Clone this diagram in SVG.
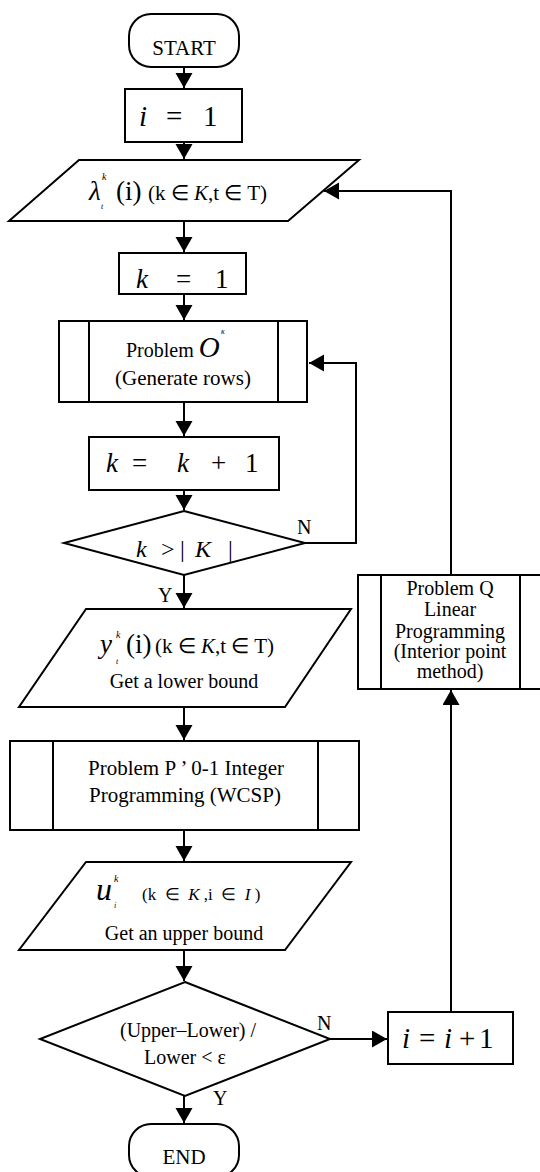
<svg xmlns="http://www.w3.org/2000/svg" width="540" height="1172" viewBox="0 0 540 1172" font-family="'Liberation Serif', 'Times New Roman', serif">
<defs>
<marker id="ah" markerUnits="userSpaceOnUse" markerWidth="16" markerHeight="18" refX="15" refY="8.5" orient="auto">
<path d="M0,0 L15,8.5 L0,17 z" fill="#000"/>
</marker>
<style>
.s{fill:#fff;stroke:#000;stroke-width:2}
.ln{fill:none;stroke:#000;stroke-width:2}
text{font-family:'Liberation Serif','Times New Roman',serif;fill:#000}
.c{text-anchor:middle}
.i{font-style:italic}
</style>
</defs>
<rect width="540" height="1172" fill="#fff"/>
<g id="connectors">
<path class="ln" d="M184,67 V88" marker-end="url(#ah)"/>
<path class="ln" d="M184,142 V159" marker-end="url(#ah)"/>
<path class="ln" d="M184,221 V252" marker-end="url(#ah)"/>
<path class="ln" d="M184,294 V320" marker-end="url(#ah)"/>
<path class="ln" d="M184,402 V436" marker-end="url(#ah)"/>
<path class="ln" d="M184,490 V510" marker-end="url(#ah)"/>
<path class="ln" d="M305,543 H356 V363 H309" marker-end="url(#ah)"/>
<path class="ln" d="M184,575 V608" marker-end="url(#ah)"/>
<path class="ln" d="M184,707 V740" marker-end="url(#ah)"/>
<path class="ln" d="M184,830 V861" marker-end="url(#ah)"/>
<path class="ln" d="M184,950 V981" marker-end="url(#ah)"/>
<path class="ln" d="M330,1039 H387" marker-end="url(#ah)"/>
<path class="ln" d="M184,1096 V1123" marker-end="url(#ah)"/>
<path class="ln" d="M451,1012 V690" marker-end="url(#ah)"/>
<path class="ln" d="M451,575 V191 H324" marker-end="url(#ah)"/>
<text x="297" y="534" font-size="20">N</text>
<text x="158" y="602" font-size="20">Y</text>
<text x="317" y="1030" font-size="20">N</text>
<text x="213" y="1105" font-size="20">Y</text>
</g>
<g id="start">
<rect class="s" x="129" y="14" width="110" height="53" rx="22"/>
<text class="c" x="184" y="55" font-size="21">START</text>
</g>
<g id="i1">
<rect class="s" x="125" y="89" width="117" height="53"/>
<text y="126" font-size="29"><tspan class="i" x="139">i</tspan><tspan x="166">=</tspan><tspan x="203">1</tspan></text>
</g>
<g id="lambda">
<polygon class="s" points="79,160 359,160 288,221 9,221"/>
<text x="89" y="200" font-size="27" class="i">λ</text>
<text x="102" y="180" font-size="10" class="i">k</text>
<text x="101" y="209" font-size="8" class="i">t</text>
<text x="116" y="200" font-size="27">(i)</text>
<text x="148" y="200" font-size="21">(k ∈ <tspan class="i">K</tspan>,t ∈ T)</text>
</g>
<g id="k1">
<rect class="s" x="119" y="253" width="127" height="41"/>
<text y="288" font-size="27"><tspan class="i" x="136">k</tspan><tspan x="176">=</tspan><tspan x="215">1</tspan></text>
</g>
<g id="problemO">
<rect class="s" x="59" y="321" width="248" height="81"/>
<line class="ln" x1="89" y1="321" x2="89" y2="402"/>
<line class="ln" x1="278" y1="321" x2="278" y2="402"/>
<text x="126" y="357" font-size="20">Problem <tspan class="i" font-size="29">O</tspan></text>
<text x="221" y="334" font-size="8" class="i">κ</text>
<text class="c" x="183" y="385" font-size="21">(Generate rows)</text>
</g>
<g id="kk1">
<rect class="s" x="89" y="437" width="190" height="53"/>
<text y="472" font-size="27"><tspan class="i" x="106">k</tspan><tspan x="132">=</tspan><tspan class="i" x="177">k</tspan><tspan x="211">+</tspan><tspan x="245">1</tspan></text>
</g>
<g id="decK">
<polygon class="s" points="184,511 305,543 184,575 64,543"/>
<text y="557" font-size="24"><tspan class="i" x="136">k</tspan><tspan x="161">&gt;</tspan><tspan x="180">|</tspan><tspan class="i" x="195">K</tspan><tspan x="228">|</tspan></text>
</g>
<g id="ylow">
<polygon class="s" points="86,609 351,609 285,707 19,707"/>
<text x="100" y="653" font-size="27" class="i">y</text>
<text x="116" y="638" font-size="10" class="i">k</text>
<text x="116" y="664" font-size="8" class="i">t</text>
<text x="126" y="653" font-size="27">(i)</text>
<text x="155" y="653" font-size="21">(k ∈ <tspan class="i">K</tspan>,t ∈ T)</text>
<text class="c" x="184" y="688" font-size="20">Get a lower bound</text>
</g>
<g id="problemP">
<rect class="s" x="10" y="741" width="349" height="89"/>
<line class="ln" x1="53" y1="741" x2="53" y2="830"/>
<line class="ln" x1="318" y1="741" x2="318" y2="830"/>
<text class="c" x="186" y="775" font-size="21">Problem P ’ 0-1 Integer</text>
<text class="c" x="185" y="802" font-size="21">Programming (WCSP)</text>
</g>
<g id="uup">
<polygon class="s" points="86,862 351,862 285,950 19,950"/>
<text x="96" y="900" font-size="32" class="i">u</text>
<text x="114" y="882" font-size="10" class="i">k</text>
<text x="114" y="908" font-size="8" class="i">i</text>
<text x="142" y="900" font-size="17" xml:space="preserve">(k  ∈  <tspan class="i">K</tspan> ,i  ∈  <tspan class="i">I</tspan> )</text>
<text class="c" x="184" y="940" font-size="20">Get an upper bound</text>
</g>
<g id="decGap">
<polygon class="s" points="185,982 330,1039 185,1096 40,1039"/>
<text class="c" x="188" y="1037" font-size="20">(Upper–Lower) /</text>
<text class="c" x="185" y="1064" font-size="20">Lower &lt; ε</text>
</g>
<g id="ii1">
<rect class="s" x="388" y="1012" width="125" height="52"/>
<text y="1048" font-size="29"><tspan class="i" x="402">i</tspan><tspan x="419">=</tspan><tspan class="i" x="444">i</tspan><tspan x="459">+</tspan><tspan x="479">1</tspan></text>
</g>
<g id="problemQ">
<rect class="s" x="358" y="575" width="185" height="114"/>
<line class="ln" x1="381" y1="575" x2="381" y2="689"/>
<line class="ln" x1="520" y1="575" x2="520" y2="689"/>
<text class="c" x="450" y="595" font-size="20">Problem Q</text>
<text class="c" x="450" y="616" font-size="20">Linear</text>
<text class="c" x="450" y="638" font-size="20">Programming</text>
<text class="c" x="450" y="658" font-size="20">(Interior point</text>
<text class="c" x="450" y="678" font-size="20">method)</text>
</g>
<g id="end">
<rect class="s" x="129" y="1124" width="110" height="53" rx="22"/>
<text class="c" x="184" y="1164" font-size="21">END</text>
</g>
</svg>
